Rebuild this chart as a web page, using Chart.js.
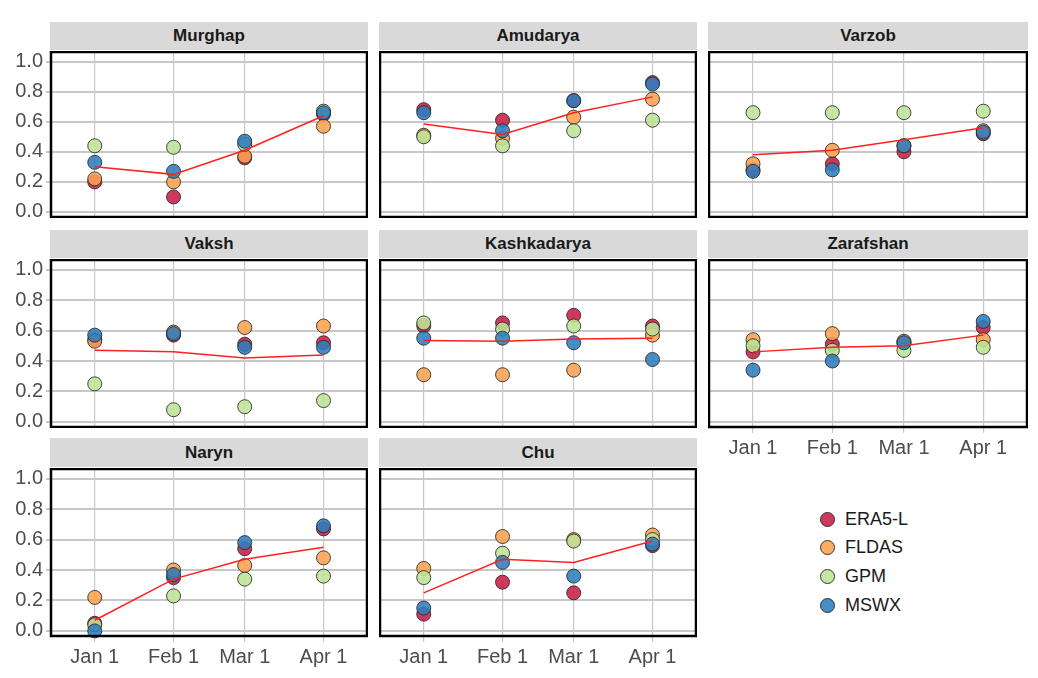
<!DOCTYPE html>
<html>
<head>
<meta charset="utf-8">
<script src="https://cdn.jsdelivr.net/npm/chart.js@4"></script>
<style>
  body { margin: 0; background: #fff; font-family: "Liberation Sans", Arial, sans-serif; }
  #wrap { position: relative; width: 1038px; height: 678px; }
  .strip { position: absolute; background: #d9d9d9; font-weight: bold; font-size: 17px;
           color: #1a1a1a; text-align: center; }
  canvas { position: absolute; }
  .leg { position: absolute; font-size: 18px; color: #1a1a1a; }
  .leg span.dot { display: inline-block; width: 13px; height: 13px; border-radius: 50%;
                  border: 1px solid #333; vertical-align: -2px; margin-right: 10px; }
</style>
</head>
<body>
<div id="wrap"></div>
<script>
var days = [0, 31, 59, 90];
var dayLabels = ['Jan 1', 'Feb 1', 'Mar 1', 'Apr 1'];
var yTicks = [0, 0.2, 0.4, 0.6, 0.8, 1.0];
var sources = ['ERA5-L', 'FLDAS', 'GPM', 'MSWX'];
var colors = ['rgba(200,30,70,0.88)', 'rgba(250,160,80,0.88)', 'rgba(190,228,150,0.88)', 'rgba(45,125,190,0.88)'];

var basins = ['Murghap', 'Amudarya', 'Varzob', 'Vaksh', 'Kashkadarya', 'Zarafshan', 'Naryn', 'Chu'];

var era5  = [[0.20,0.10,0.36,0.65],[0.68,0.61,0.74,0.86],[0.28,0.32,0.40,0.52],[0.54,0.57,0.51,0.52],
             [0.63,0.65,0.70,0.63],[0.46,0.51,0.52,0.62],[0.05,0.35,0.54,0.67],[0.11,0.32,0.25,0.56]];
var fldas = [[0.22,0.20,0.37,0.57],[0.51,0.49,0.63,0.75],[0.32,0.41,0.44,0.54],[0.53,0.59,0.62,0.63],
             [0.31,0.31,0.34,0.57],[0.54,0.58,0.53,0.54],[0.22,0.40,0.43,0.48],[0.41,0.62,0.60,0.63]];
var gpm   = [[0.44,0.43,0.45,0.67],[0.50,0.44,0.54,0.61],[0.66,0.66,0.66,0.67],[0.25,0.08,0.10,0.14],
             [0.65,0.61,0.63,0.61],[0.50,0.47,0.47,0.49],[0.04,0.23,0.34,0.36],[0.35,0.51,0.59,0.60]];
var mswx  = [[0.33,0.27,0.47,0.66],[0.66,0.54,0.74,0.85],[0.27,0.28,0.44,0.53],[0.57,0.58,0.49,0.49],
             [0.55,0.55,0.52,0.41],[0.34,0.40,0.52,0.66],[0.00,0.37,0.58,0.69],[0.15,0.45,0.36,0.57]];
var meanLine = [[0.30,0.25,0.41,0.64],[0.585,0.515,0.66,0.765],[0.38,0.41,0.48,0.56],[0.47,0.46,0.42,0.44],
                [0.535,0.53,0.545,0.55],[0.46,0.49,0.50,0.57],[0.07,0.34,0.47,0.55],[0.25,0.47,0.45,0.59]];

var colX = [[50, 368], [379, 697], [708, 1028]];
var rowY = [[51, 218], [259, 428], [468, 637]];
var stripTop = [22, 230, 438];
var withXAxis = ['Zarafshan', 'Naryn', 'Chu'];

var wrap = document.getElementById('wrap');

var borderPlugin = {
  id: 'panelBorder',
  afterDraw: function(chart) {
    var a = chart.chartArea, c = chart.ctx;
    c.save();
    c.strokeStyle = '#000';
    c.lineWidth = 2.5;
    c.strokeRect(a.left + 1, a.top + 1, a.right - a.left - 2, a.bottom - a.top - 2);
    c.restore();
  }
};

function pts(vals) {
  return vals.map(function(v, i) { return { x: days[i], y: v }; });
}

basins.forEach(function(name, b) {
  var col = b % 3, row = Math.floor(b / 3);
  var left = col === 0;
  var hasX = withXAxis.indexOf(name) >= 0;
  var yW = left ? 50 : 0, xH = hasX ? 46 : 0;

  var strip = document.createElement('div');
  strip.className = 'strip';
  strip.style.left = colX[col][0] + 'px';
  strip.style.width = (colX[col][1] - colX[col][0]) + 'px';
  strip.style.top = stripTop[row] + 'px';
  strip.style.height = (rowY[row][0] - stripTop[row] - 1) + 'px';
  strip.style.lineHeight = (rowY[row][0] - stripTop[row] - 1) + 'px';
  strip.textContent = name;
  wrap.appendChild(strip);

  var cv = document.createElement('canvas');
  var w = colX[col][1] - colX[col][0] + yW, h = rowY[row][1] - rowY[row][0] + xH;
  cv.style.left = (colX[col][0] - yW) + 'px';
  cv.style.top = rowY[row][0] + 'px';
  cv.style.width = w + 'px';
  cv.style.height = h + 'px';
  cv.width = w; cv.height = h;
  wrap.appendChild(cv);

  var series = [era5[b], fldas[b], gpm[b], mswx[b]];
  var datasets = [{
    type: 'line', data: pts(meanLine[b]), borderColor: '#ff2020', borderWidth: 1.5,
    pointRadius: 0, fill: false, order: 0
  }];
  series.forEach(function(s, i) {
    datasets.push({
      type: 'scatter', label: sources[i], data: pts(s), backgroundColor: colors[i],
      borderColor: 'rgba(40,40,40,0.85)', borderWidth: 1, pointRadius: 7, order: 4 - i
    });
  });

  new Chart(cv, {
    data: { datasets: datasets },
    plugins: [borderPlugin],
    options: {
      responsive: false, animation: false, clip: false,
      layout: { padding: 0, autoPadding: false },
      plugins: { legend: { display: false }, tooltip: { enabled: false } },
      scales: {
        x: {
          type: 'linear', min: -17.6, max: 107.5,
          afterBuildTicks: function(ax) { ax.ticks = days.map(function(d) { return { value: d }; }); },
          afterFit: function(ax) {
            ax.height = xH;
            ax.paddingLeft = ax.paddingRight = ax.paddingTop = ax.paddingBottom = 0;
          },
          grid: { color: '#c8c8c8', lineWidth: 1.2, drawTicks: hasX, tickLength: 5 },
          border: { display: false },
          ticks: {
            display: hasX, color: '#4d4d4d', padding: 3,
            font: { family: 'Liberation Sans', size: 20 },
            callback: function(v) { return dayLabels[days.indexOf(v)]; }
          }
        },
        y: {
          min: -0.04, max: 1.07,
          afterBuildTicks: function(ax) { ax.ticks = yTicks.map(function(v) { return { value: v }; }); },
          afterFit: function(ax) {
            ax.width = yW;
            ax.paddingLeft = ax.paddingRight = ax.paddingTop = ax.paddingBottom = 0;
          },
          grid: { color: '#c8c8c8', lineWidth: 2, drawTicks: left, tickLength: 4 },
          border: { display: false },
          ticks: {
            display: left, color: '#4d4d4d', padding: 3,
            font: { family: 'Liberation Sans', size: 20 },
            callback: function(v) { return v.toFixed(1); }
          }
        }
      }
    }
  });
});

// legend
var legTop = [520, 548, 577, 606];
sources.forEach(function(s, i) {
  var d = document.createElement('div');
  d.className = 'leg';
  d.style.left = '820px';
  d.style.top = (legTop[i] - 11) + 'px';
  d.innerHTML = '<span class="dot" style="background:' + colors[i] + '"></span>' + s;
  wrap.appendChild(d);
});
</script>
</body>
</html>
